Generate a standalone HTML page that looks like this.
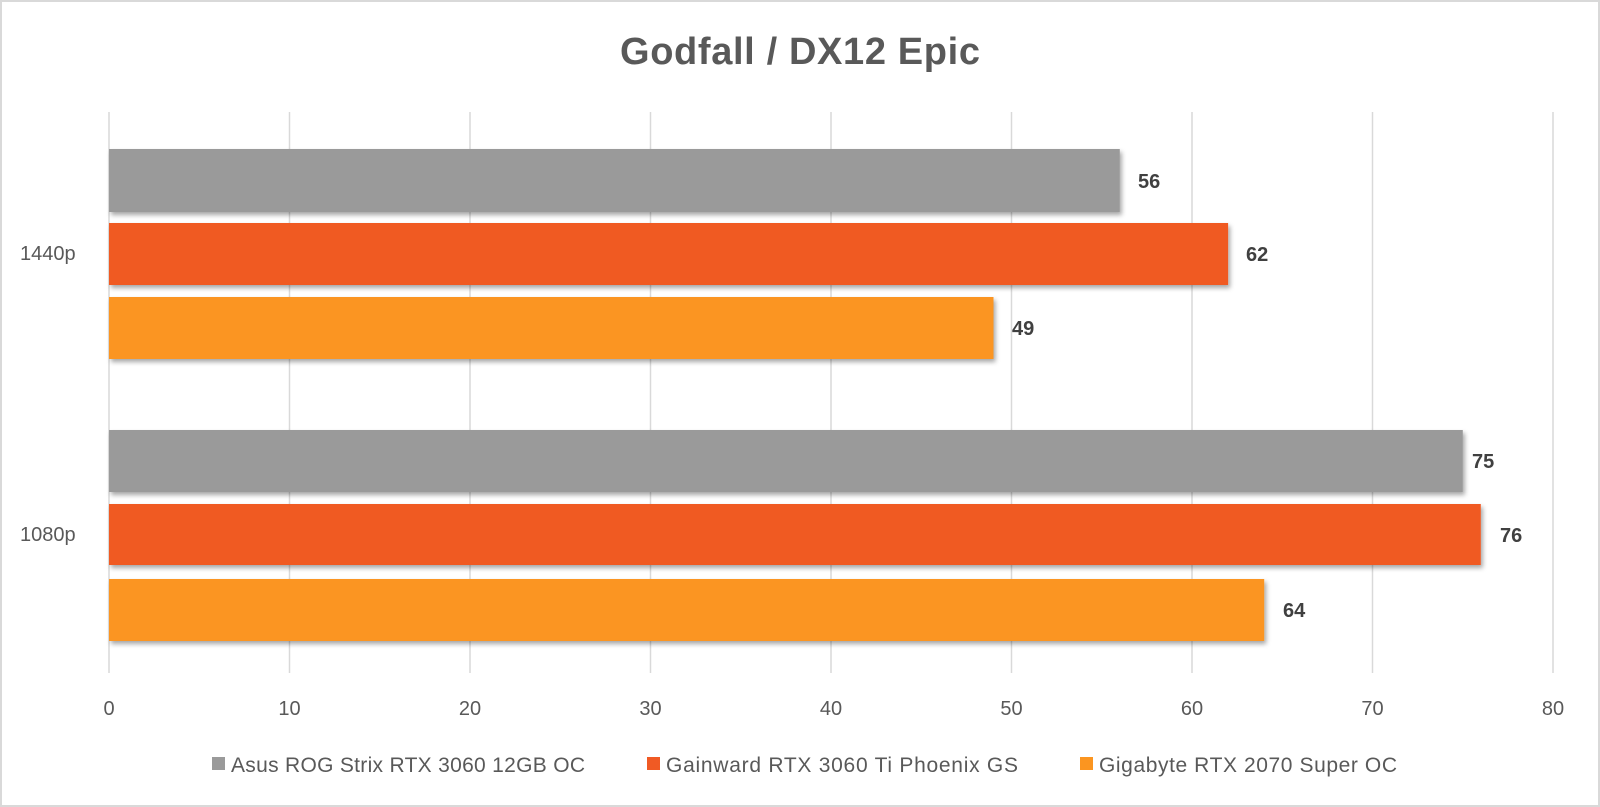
<!DOCTYPE html>
<html><head><meta charset="utf-8"><style>
body{margin:0;background:#fff}
svg{display:block}
text{font-family:"Liberation Sans",sans-serif}
</style></head><body>
<svg width="1600" height="807" viewBox="0 0 1600 807">
<defs><filter id="s" x="-5%" y="-20%" width="110%" height="150%"><feDropShadow dx="2" dy="3" stdDeviation="2.5" flood-color="#000" flood-opacity="0.35"/></filter></defs>
<rect x="1" y="1" width="1598" height="805" fill="#fff" stroke="#d9d9d9" stroke-width="2"/>
<text x="800" y="64" text-anchor="middle" font-size="38" font-weight="bold" fill="#595959" textLength="360">Godfall / DX12 Epic</text>
<g stroke="#d9d9d9" stroke-width="1.5">
<line x1="109" y1="112" x2="109" y2="673"/><line x1="289.5" y1="112" x2="289.5" y2="673"/><line x1="470" y1="112" x2="470" y2="673"/><line x1="650.5" y1="112" x2="650.5" y2="673"/><line x1="831" y1="112" x2="831" y2="673"/><line x1="1011.5" y1="112" x2="1011.5" y2="673"/><line x1="1192" y1="112" x2="1192" y2="673"/><line x1="1372.5" y1="112" x2="1372.5" y2="673"/><line x1="1553" y1="112" x2="1553" y2="673"/>
</g>
<g filter="url(#s)">
<rect x="109" y="149" width="1010.8" height="63" fill="#9a9a9a"/>
<rect x="109" y="223" width="1119.1" height="62" fill="#f05a24"/>
<rect x="109" y="297" width="884.5" height="62" fill="#fb9520"/>
<rect x="109" y="430" width="1353.8" height="62" fill="#9a9a9a"/>
<rect x="109" y="504" width="1371.8" height="61" fill="#f05a24"/>
<rect x="109" y="579" width="1155.2" height="62" fill="#fb9520"/>
</g>
<g font-size="20" font-weight="bold" fill="#404040">
<text x="1138" y="188">56</text><text x="1246" y="261">62</text><text x="1012" y="335">49</text>
<text x="1472" y="468">75</text><text x="1500" y="542">76</text><text x="1283" y="617">64</text>
</g>
<g font-size="20" fill="#595959">
<text x="20" y="260">1440p</text><text x="20" y="541">1080p</text>
</g>
<g font-size="20" fill="#595959" text-anchor="middle">
<text x="109" y="715">0</text><text x="289.5" y="715">10</text><text x="470" y="715">20</text><text x="650.5" y="715">30</text><text x="831" y="715">40</text><text x="1011.5" y="715">50</text><text x="1192" y="715">60</text><text x="1372.5" y="715">70</text><text x="1553" y="715">80</text>
</g>
<g font-size="21" fill="#595959">
<rect x="212" y="757" width="13" height="13" fill="#9a9a9a"/><text x="231" y="772" textLength="354">Asus ROG Strix RTX 3060 12GB OC</text>
<rect x="647" y="757" width="13" height="13" fill="#f05a24"/><text x="666" y="772" textLength="352">Gainward RTX 3060 Ti Phoenix GS</text>
<rect x="1080" y="757" width="13" height="13" fill="#fb9520"/><text x="1099" y="772" textLength="298">Gigabyte RTX 2070 Super OC</text>
</g>
</svg>
</body></html>
